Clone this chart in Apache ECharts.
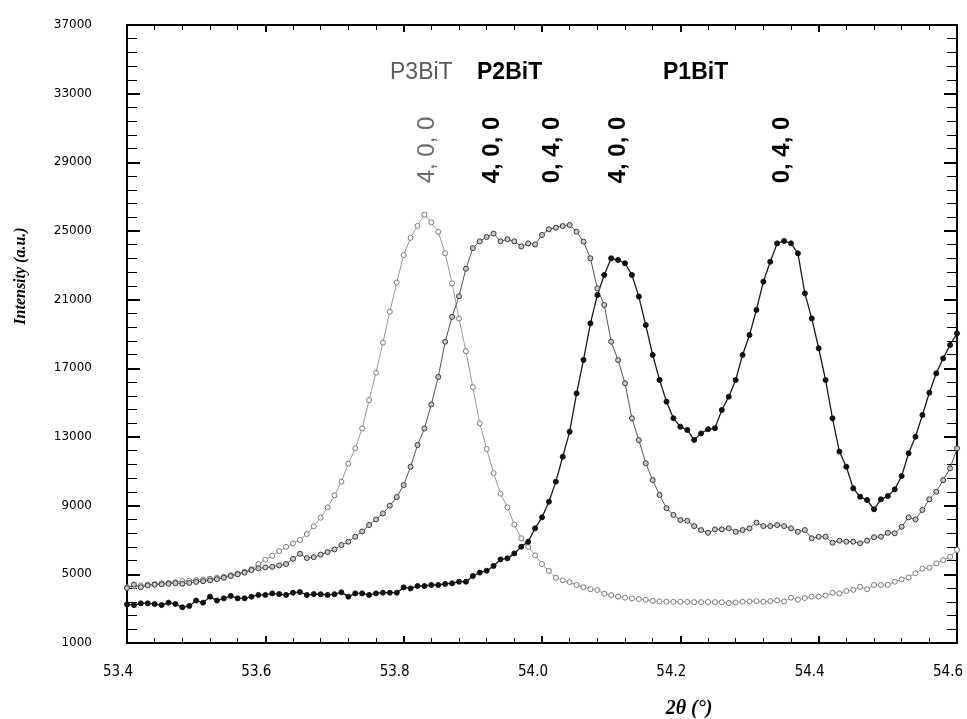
<!DOCTYPE html>
<html>
<head>
<meta charset="utf-8">
<script src="https://cdn.jsdelivr.net/npm/echarts@6/dist/echarts.min.js"></script>
<style>
  html, body { margin: 0; padding: 0; background: #fff; }
  #chart { width: 967px; height: 719px; }
</style>
</head>
<body>
<div id="chart"></div>
<script>
// 2theta scan positions (deg)
const twoTheta = [
  53.40, 53.41, 53.42, 53.43, 53.44, 53.45, 53.46, 53.47, 53.48, 53.49,
  53.50, 53.51, 53.52, 53.53, 53.54, 53.55, 53.56, 53.57, 53.58, 53.59,
  53.60, 53.61, 53.62, 53.63, 53.64, 53.65, 53.66, 53.67, 53.68, 53.69,
  53.70, 53.71, 53.72, 53.73, 53.74, 53.75, 53.76, 53.77, 53.78, 53.79,
  53.80, 53.81, 53.82, 53.83, 53.84, 53.85, 53.86, 53.87, 53.88, 53.89,
  53.90, 53.91, 53.92, 53.93, 53.94, 53.95, 53.96, 53.97, 53.98, 53.99,
  54.00, 54.01, 54.02, 54.03, 54.04, 54.05, 54.06, 54.07, 54.08, 54.09,
  54.10, 54.11, 54.12, 54.13, 54.14, 54.15, 54.16, 54.17, 54.18, 54.19,
  54.20, 54.21, 54.22, 54.23, 54.24, 54.25, 54.26, 54.27, 54.28, 54.29,
  54.30, 54.31, 54.32, 54.33, 54.34, 54.35, 54.36, 54.37, 54.38, 54.39,
  54.40, 54.41, 54.42, 54.43, 54.44, 54.45, 54.46, 54.47, 54.48, 54.49,
  54.50, 54.51, 54.52, 54.53, 54.54, 54.55, 54.56, 54.57, 54.58, 54.59,
  54.60
]

// P3BiT intensity (a.u.)
const p3BiT = [
  4250, 4300, 4350, 4400, 4430, 4480, 4500, 4550, 4600, 4620,
  4660, 4700, 4740, 4800, 4860, 4950, 5050, 5150, 5300, 5600,
  5850, 6080, 6350, 6600, 6800, 7000, 7350, 7800, 8300, 8900,
  9600, 10400, 11450, 12350, 13500, 15150, 16750, 18500, 20300, 22000,
  23600, 24600, 25300, 25950, 25500, 24950, 23700, 21950, 19900, 18000,
  15900, 13800, 12300, 10900, 9700, 8900, 7900, 7100, 6600, 6100,
  5600, 5200, 4800, 4650, 4550, 4380, 4250, 4130, 4090, 3870,
  3790, 3700, 3640, 3600, 3560, 3520, 3460, 3420, 3410, 3400,
  3400, 3390, 3380, 3380, 3390, 3380, 3370, 3330, 3360, 3400,
  3420, 3440, 3400, 3440, 3480, 3420, 3640, 3520, 3620, 3700,
  3700, 3760, 3930, 3890, 4030, 4100, 4270, 4130, 4380, 4380,
  4390, 4570, 4700, 4820, 5060, 5330, 5380, 5640, 5830, 6020,
  6420
]

// P2BiT intensity (a.u.)
const p2BiT = [
  4200, 4400, 4250, 4350, 4400, 4420, 4450, 4480, 4450, 4500,
  4560, 4600, 4650, 4720, 4800, 4900, 5000, 5100, 5250, 5350,
  5400, 5440, 5520, 5600, 5900, 6200, 5950, 6000, 6150, 6300,
  6450, 6710, 6900, 7190, 7500, 7870, 8200, 8550, 9000, 9500,
  10200, 11270, 12530, 13500, 14900, 16500, 18550, 20000, 21200, 22800,
  24000, 24400, 24650, 24850, 24400, 24520, 24400, 24100, 24280, 24220,
  24770, 25100, 25190, 25290, 25350, 24960, 24380, 23410, 21660, 20690,
  18550, 17480, 16130, 14090, 12820, 11470, 10490, 9620, 8850, 8460,
  8160, 8120, 7810, 7580, 7420, 7620, 7620, 7680, 7480, 7580,
  7680, 8010, 7810, 7810, 7870, 7810, 7680, 7480, 7580, 7100,
  7190, 7190, 6840, 6960, 6900, 6900, 6810, 6960, 7160, 7190,
  7420, 7390, 7770, 8320, 8200, 8750, 9370, 9810, 10490, 11170,
  12340
]

// P1BiT intensity (a.u.)
const p1BiT = [
  3250, 3210, 3310, 3310, 3270, 3210, 3350, 3270, 3080, 3160,
  3470, 3350, 3700, 3470, 3600, 3740, 3600, 3600, 3700, 3800,
  3800, 3890, 3850, 3800, 3930, 3970, 3800, 3850, 3840, 3800,
  3840, 3950, 3700, 3890, 3890, 3800, 3890, 3930, 3930, 3930,
  4240, 4180, 4320, 4320, 4380, 4380, 4440, 4480, 4570, 4570,
  4900, 5100, 5210, 5490, 5870, 5930, 6220, 6610, 6900, 7680,
  8320, 9230, 10400, 11850, 13310, 15540, 17490, 19620, 21270, 22440,
  23410, 23310, 23120, 22440, 21180, 19520, 17780, 16320, 15060, 14090,
  13600, 13410, 12830, 13210, 13450, 13510, 14570, 15350, 16320, 17780,
  18940, 20400, 22050, 23210, 24280, 24420, 24280, 23700, 21370, 19910,
  18170, 16320, 14090, 12150, 11270, 10010, 9520, 9330, 8790, 9370,
  9560, 9950, 10730, 12050, 13020, 14280, 15580, 16710, 17580, 18360,
  19040
]

const xTicks = { min: 53.4, max: 54.6, step: 0.2 }
const yTicks = { min: 1000, max: 37000, step: 4000 }

const chart = echarts.init(document.getElementById('chart'))

function pairs (ys) {
  return twoTheta.map((x, i) => [x, ys[i]])
}

const axisLine = { show: true, onZero: false, lineStyle: { color: '#000', width: 2 } }

function xAxisCfg (pos, labels) {
  return {
    type: 'value',
    position: pos,
    min: xTicks.min,
    max: xTicks.max,
    interval: xTicks.step,
    axisLine: axisLine,
    axisTick: { show: true, inside: true, length: 7, lineStyle: { color: '#000', width: 2 } },
    minorTick: { show: true, splitNumber: 5, length: 5, lineStyle: { color: '#000', width: 1 } },
    splitLine: { show: false },
    axisLabel: {
      show: labels,
      margin: 22,
      padding: [0, 18, 0, 0],
      color: '#000',
      fontFamily: '"DejaVu Sans Condensed", "Liberation Sans Narrow", "Liberation Sans", sans-serif',
      fontSize: 15,
      formatter: v => v.toFixed(1)
    }
  }
}

function yAxisCfg (pos, labels) {
  return {
    type: 'value',
    position: pos,
    min: yTicks.min,
    max: yTicks.max,
    interval: yTicks.step,
    axisLine: axisLine,
    axisTick: { show: true, inside: true, length: 13, lineStyle: { color: '#000', width: 2 } },
    minorTick: { show: true, splitNumber: 5, length: 10, lineStyle: { color: '#000', width: 1 } },
    splitLine: { show: false },
    axisLabel: {
      show: labels,
      margin: 35,
      color: '#000',
      fontFamily: '"DejaVu Sans", sans-serif',
      fontSize: 12,
      formatter: v => String(Math.round(v))
    }
  }
}

function lineSeries (name, ys, lineColor, fill, border, width) {
  return {
    name: name,
    type: 'line',
    data: pairs(ys),
    symbol: 'circle',
    symbolSize: 5,
    showAllSymbol: true,
    animation: false,
    lineStyle: { color: lineColor, width: width },
    itemStyle: { color: fill, borderColor: border, borderWidth: 1 }
  }
}

// rotated hkl labels over the peaks
function hkl (text, x, color, weight) {
  return {
    type: 'text', x: x, y: 150, rotation: Math.PI / 2,
    style: {
      text: text, fill: color, align: 'center', verticalAlign: 'middle',
      font: weight + ' 24px "Liberation Sans", Arial, sans-serif'
    }
  }
}

function title (text, x, color, weight) {
  return {
    type: 'text', x: x, y: 73,
    style: {
      text: text, fill: color, align: 'left', verticalAlign: 'middle',
      font: weight + ' 23px "Liberation Sans", Arial, sans-serif'
    }
  }
}

chart.setOption({
  backgroundColor: '#fff',
  animation: false,
  grid: { left: 127, right: 10, top: 25, bottom: 76 },
  xAxis: [xAxisCfg('bottom', true), xAxisCfg('top', false)],
  yAxis: [yAxisCfg('left', true), yAxisCfg('right', false)],
  series: [
    lineSeries('P3BiT', p3BiT, '#9a9a9a', '#ffffff', '#7a7a7a', 1),
    lineSeries('P2BiT', p2BiT, '#555555', '#c8c8c8', '#3a3a3a', 1),
    lineSeries('P1BiT', p1BiT, '#1a1a1a', '#111111', '#111111', 1.3)
  ],
  graphic: [
    title('P3BiT', 390, '#5a5a5a', 'normal'),
    title('P2BiT', 477, '#000', 'bold'),
    title('P1BiT', 663, '#000', 'bold'),
    hkl('4, 0, 0', 427, '#6a6a6a', 'normal'),
    hkl('4, 0, 0', 492, '#000', 'bold'),
    hkl('0, 4, 0', 552, '#000', 'bold'),
    hkl('4, 0, 0', 618, '#000', 'bold'),
    hkl('0, 4, 0', 782, '#000', 'bold'),
    {
      type: 'text', x: 21, y: 276, rotation: Math.PI / 2,
      style: {
        text: 'Intensity (a.u.)', fill: '#000', align: 'center', verticalAlign: 'middle',
        font: 'italic bold 16px "Liberation Serif", "Times New Roman", serif'
      }
    },
    {
      type: 'text', x: 689, y: 709,
      style: {
        text: '2θ (°)', fill: '#000', align: 'center', verticalAlign: 'middle',
        font: 'italic bold 20px "Liberation Serif", "Times New Roman", serif'
      }
    }
  ]
})
</script>
</body>
</html>
